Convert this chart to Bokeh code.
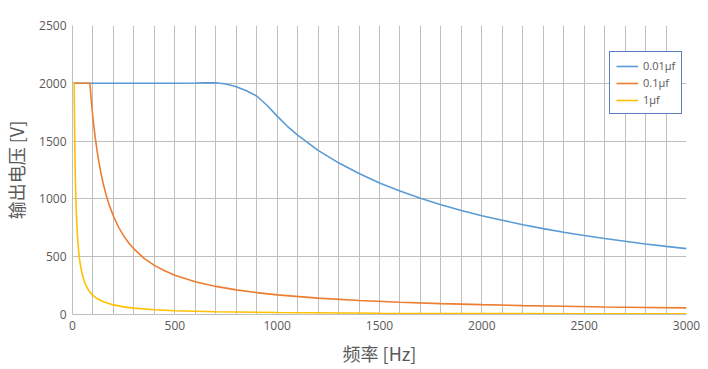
from bokeh.plotting import figure
from bokeh.models import Range1d, SingleIntervalTicker, Legend, LegendItem
from bokeh.embed import file_html
from bokeh.resources import INLINE

# Data
blue_x = [0, 100, 200, 300, 400, 500, 600, 650, 700, 750, 800, 850, 900, 950, 1000, 1050, 1100,
          1200, 1300, 1400, 1500, 1600, 1700, 1800, 1900, 2000, 2100, 2200, 2300, 2400, 2500,
          2600, 2700, 2800, 2900, 3000]
blue_y = [2000, 2000, 2000, 2000, 2000, 2000, 2002, 2004, 2005, 1994, 1970, 1936, 1890, 1810, 1716,
          1628, 1552, 1420, 1312, 1220, 1138, 1068, 1005, 950, 900, 855, 815, 777, 743, 712, 684,
          657, 633, 610, 589, 570]

orange_x = [0, 50, 85, 90, 95, 100, 110, 120, 130, 140, 150, 165, 180, 200, 225, 250, 275, 300,
            350, 400, 450, 500, 600, 700, 800, 900, 1000, 1200, 1400, 1600, 1800, 2000, 2200,
            2400, 2600, 2800, 3000]
orange_y = [2000, 2000, 2000, 1889, 1789, 1700, 1545, 1417, 1308, 1214, 1133, 1030, 944, 850, 756,
            680, 618, 567, 486, 425, 378, 340, 283, 243, 213, 189, 170, 142, 121, 106, 94, 85, 77,
            71, 65, 61, 57]

yellow_x = [0, 8, 9, 10, 11, 12, 14, 16, 18, 20, 25, 30, 35, 40, 50, 60, 70, 80, 100, 120, 150,
            200, 250, 300, 400, 500, 700, 1000, 1500, 2000, 2500, 3000]
yellow_y = [2000, 2000, 1830, 1650, 1500, 1375, 1180, 1030, 915, 825, 660, 550, 470, 412, 330, 275,
            236, 206, 165, 138, 110, 83, 66, 55, 41, 33, 24, 17, 11, 8, 7, 6]

series_labels = ["0.01\u03bcf", "0.1\u03bcf", "1\u03bcf"]
series_colors = ["#5B9BD5", "#ED7D31", "#FFC000"]
x_label = "频率 [Hz]"
y_label = "输出电压 [V]"

p = figure(width=700, height=369, output_backend="svg", toolbar_location=None,
           x_range=Range1d(0, 3000), y_range=Range1d(0, 2500),
           min_border_left=72, min_border_right=14, min_border_top=25, min_border_bottom=55)
p.outline_line_color = None
p.background_fill_color = "white"
p.border_fill_color = "white"

p.xaxis.ticker = SingleIntervalTicker(interval=500, num_minor_ticks=5)
p.yaxis.ticker = SingleIntervalTicker(interval=500, num_minor_ticks=0)

grid_color = "#BFBFBF"
p.xgrid.grid_line_color = grid_color
p.xgrid.minor_grid_line_color = grid_color
p.ygrid.grid_line_color = grid_color

for ax in (p.xaxis, p.yaxis):
    ax.axis_line_color = grid_color
    ax.major_tick_out = 0
    ax.major_tick_in = 0
    ax.minor_tick_out = 0
    ax.minor_tick_in = 0
    ax.major_label_text_font = "Open Sans"
    ax.major_label_text_font_size = "12px"
    ax.major_label_text_color = "#595959"
    ax.axis_label_text_font = "Noto Sans CJK SC"
    ax.axis_label_text_font_size = "18px"
    ax.axis_label_text_font_style = "normal"
    ax.axis_label_text_color = "#595959"
    ax.major_label_standoff = 6

p.xaxis.axis_label = x_label
p.yaxis.axis_label = y_label
p.xaxis.axis_label_standoff = 7
p.yaxis.axis_label_standoff = 7

r1 = p.line(blue_x, blue_y, line_color=series_colors[0], line_width=1.6)
r2 = p.line(orange_x, orange_y, line_color=series_colors[1], line_width=1.6)
r3 = p.line(yellow_x, yellow_y, line_color=series_colors[2], line_width=1.6)

legend = Legend(items=[LegendItem(label=series_labels[0], renderers=[r1]),
                       LegendItem(label=series_labels[1], renderers=[r2]),
                       LegendItem(label=series_labels[2], renderers=[r3])],
                location=(537, 200))
legend.border_line_color = "#5A7EBF"
legend.border_line_alpha = 1
legend.border_line_width = 1
legend.background_fill_color = "white"
legend.background_fill_alpha = 1
legend.label_text_font = "Open Sans"
legend.label_text_font_size = "11px"
legend.label_text_color = "#595959"
legend.glyph_width = 22
legend.glyph_height = 14
legend.label_height = 14
legend.spacing = 2
legend.padding = 6
legend.margin = 0
legend.label_standoff = 5
p.add_layout(legend, "center")

open("out.html", "w").write(file_html(p, INLINE))
